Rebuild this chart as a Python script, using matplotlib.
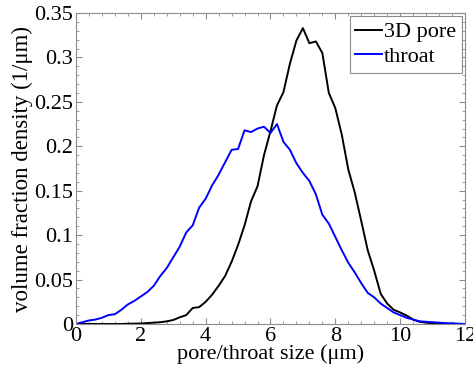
import numpy as np
import matplotlib
matplotlib.use("Agg")
import matplotlib.pyplot as plt
from matplotlib.ticker import MultipleLocator, AutoMinorLocator

plt.rcParams['font.family'] = ['Liberation Serif', 'DejaVu Serif']
plt.rcParams['mathtext.fontset'] = 'stix'

# pore/throat size (um), sampled every 0.2
size = np.arange(0, 12.01, 0.2)

# volume fraction density, 3D pore
pore = [0, 0, 0, 0, 0, 0, 0, 0, 0.0003, 0.0004,
        0.0006, 0.001, 0.0015, 0.002, 0.003, 0.0045, 0.0075, 0.010, 0.018, 0.019,
        0.025, 0.033, 0.043, 0.054, 0.070, 0.089, 0.111, 0.138, 0.155, 0.190,
        0.217, 0.246, 0.261, 0.293, 0.319, 0.333, 0.316, 0.318, 0.305, 0.260,
        0.243, 0.213, 0.174, 0.148, 0.116, 0.083, 0.060, 0.034, 0.023, 0.016,
        0.013, 0.0095, 0.005, 0.0025, 0.0015, 0.0008, 0.0004, 0, 0, 0,
        0]

# volume fraction density, throat
throat = [0, 0.002, 0.004, 0.005, 0.007, 0.010, 0.011, 0.016, 0.022, 0.026,
          0.031, 0.036, 0.043, 0.054, 0.063, 0.075, 0.087, 0.103, 0.111, 0.131,
          0.141, 0.156, 0.168, 0.182, 0.196, 0.197, 0.218, 0.216, 0.220, 0.222,
          0.215, 0.225, 0.205, 0.196, 0.181, 0.170, 0.161, 0.146, 0.123, 0.113,
          0.098, 0.083, 0.069, 0.058, 0.046, 0.035, 0.030, 0.023, 0.018, 0.013,
          0.010, 0.007, 0.005, 0.003, 0.0025, 0.002, 0.0015, 0.001, 0.0008, 0.0004,
          0.0]

fig = plt.figure(figsize=(4.73, 3.77), dpi=100)
ax = fig.add_axes([0.1607, 0.1406, 0.8223, 0.8249])

ax.plot(size, pore, color='black', lw=1.4, label='3D pore')
ax.plot(size, throat, color='#0000ff', lw=1.4, label='throat')

ax.set_xlim(0, 12)
ax.set_ylim(0, 0.35)
ax.xaxis.set_major_locator(MultipleLocator(2))
ax.xaxis.set_minor_locator(AutoMinorLocator(5))
ax.set_yticks(np.arange(0, 0.351, 0.05))
ax.set_yticklabels(['0', '0.05', '0.1', '0.15', '0.2', '0.25', '0.3', '0.35'])
ax.yaxis.set_minor_locator(AutoMinorLocator(5))

for s in ax.spines.values():
    s.set_color('#8c8c8c')
    s.set_linewidth(0.8)
ax.tick_params(which='both', direction='in', top=True, right=True,
               color='#8c8c8c', labelsize=16, pad=2)
ax.tick_params(which='major', length=4)
ax.tick_params(which='minor', length=2)

ax.set_xlabel('pore/throat size (μm)', fontsize=16, labelpad=-1)
ax.set_ylabel('volume fraction density (1/μm)', fontsize=16.5, labelpad=1)

leg = ax.legend(loc='upper right', fontsize=16, fancybox=False, framealpha=1,
                edgecolor='#8c8c8c', handlelength=1.2, handletextpad=0.1,
                borderpad=0.25, labelspacing=0.18, borderaxespad=0.15)
leg.get_frame().set_linewidth(0.8)

fig.savefig('out.png', dpi=100)
